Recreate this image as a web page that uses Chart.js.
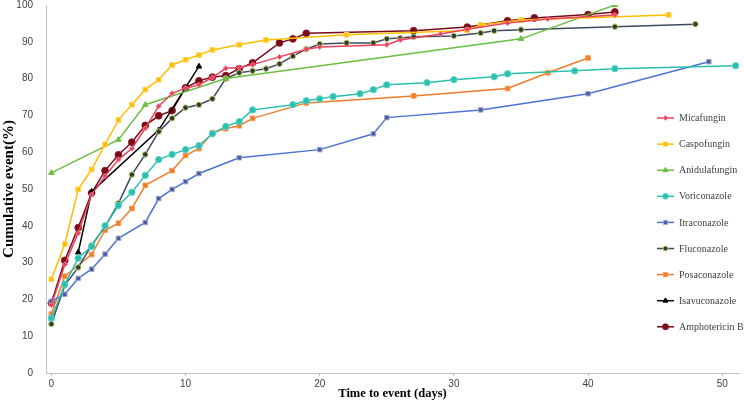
<!DOCTYPE html>
<html>
<head>
<meta charset="utf-8">
<script src="https://cdn.jsdelivr.net/npm/chart.js@4.4.1/dist/chart.umd.min.js"></script>
<style>
  html, body { margin: 0; padding: 0; background: #fff; }
  #wrap { width: 744px; height: 402px; position: relative; }
</style>
</head>
<body>
<div id="wrap"><canvas id="cumChart"></canvas></div>
<script>
// series labels (legend order)
const drugNames = ["Micafungin", "Caspofungin", "Anidulafungin", "Voriconazole", "Itraconazole",
                   "Fluconazole", "Posaconazole", "Isavuconazole", "Amphotericin B"];
const xTicks = [0, 10, 20, 30, 40, 50];

// day / cumulative % per drug
const micaDays = [0, 1, 2, 3, 4, 5, 6, 7, 8, 9, 10, 11, 12, 13, 14, 15, 17, 19, 20, 25, 26, 29, 31, 34, 37, 42];
const micaVals = [18.5, 29.5, 38, 48.5, 53.5, 58, 61, 66.5, 72.5, 76, 77.4, 78.3, 80.3, 82.8, 83, 83.8, 85.9, 88, 88.6, 89.2, 90.5, 92.1, 93.4, 95.1, 96.2, 97.3];

const caspoDays = [0, 1, 2, 3, 4, 5, 6, 7, 8, 9, 10, 11, 12, 14, 16, 22, 31, 32, 35, 46];
const caspoVals = [25.5, 35, 49.9, 55.3, 62.1, 68.8, 72.9, 77, 79.7, 83.7, 85.1, 86.4, 87.8, 89.2, 90.5, 91.9, 93.1, 94.6, 95.9, 97.3];

const anidDays = [0, 5, 7, 13, 35, 42];
const anidVals = [54.4, 63.4, 72.9, 80, 90.8, 100];

const voriDays = [0, 1, 2, 3, 4, 5, 6, 7, 8, 9, 10, 11, 12, 13, 14, 15, 18, 19, 20, 21, 23, 24, 25, 28, 30, 33, 34, 39, 42, 51];
const voriVals = [14.9, 24.1, 31.2, 34.4, 40, 45.5, 49.1, 53.7, 58, 59.4, 60.7, 61.8, 65, 67, 68.3, 71.5, 72.9, 74, 74.5, 75.1, 75.9, 77, 78.3, 78.9, 79.7, 80.5, 81.3, 82.1, 82.7, 83.5];

const itraDays = [0, 1, 2, 3, 4, 5, 7, 8, 9, 10, 11, 14, 20, 24, 25, 32, 40, 49];
const itraVals = [19.5, 21.4, 25.7, 28.2, 32.3, 36.6, 40.9, 47.4, 49.9, 52, 54.2, 58.5, 60.7, 65, 69.4, 71.5, 75.9, 84.6];

const flucoDays = [0, 1, 2, 3, 4, 5, 6, 7, 8, 9, 10, 11, 12, 13, 14, 15, 16, 17, 18, 19, 20, 22, 24, 25, 26, 27, 30, 32, 33, 35, 42, 48];
const flucoVals = [13.3, 23.8, 28.7, 34.7, 39.8, 46.1, 53.9, 59.4, 65.6, 69.2, 72.1, 72.9, 74.5, 80, 81.6, 82.1, 82.7, 84, 86.1, 88, 89.4, 89.7, 89.7, 90.8, 91, 91.4, 91.6, 92.4, 93, 93.3, 94.1, 94.8];

const posaDays = [0, 1, 3, 4, 5, 6, 7, 9, 10, 11, 12, 13, 14, 15, 19, 27, 34, 37, 40];
const posaVals = [16, 26.3, 32.2, 38.8, 40.7, 44.7, 51, 55, 59.1, 61, 65.3, 66.4, 67.2, 69.2, 73.4, 75.3, 77.3, 81.6, 85.6];

const isaDays = [2, 3, 8, 11];
const isaVals = [32.8, 49.3, 66, 83.3];

const amphoDays = [0, 1, 2, 3, 4, 5, 6, 7, 8, 9, 10, 11, 12, 13, 14, 15, 17, 18, 19, 27, 31, 34, 36, 40, 42];
const amphoVals = [19, 30.6, 39.5, 48.9, 55, 59.3, 62.7, 67.3, 69.9, 71.3, 77.5, 79.4, 80.4, 80.8, 82.7, 84.3, 89.7, 90.8, 92.3, 93, 94, 95.7, 96.5, 97.4, 98.1];

function pts(days, vals) {
  return days.map((d, i) => ({ x: d, y: vals[i] }));
}

// one entry per drug: data + look
const seriesDefs = [
  { days: micaDays,  vals: micaVals,  line: "#E8415A", fill: "#E8415A", edge: "#F07A8A", style: "rectRot",  r: 2.6 },
  { days: caspoDays, vals: caspoVals, line: "#FFBE00", fill: "#FFBE00", edge: "#FFD24D", style: "rect",     r: 3.3 },
  { days: anidDays,  vals: anidVals,  line: "#6CBE45", fill: "#6CBE45", edge: "#6CBE45", style: "triangle", r: 3.2 },
  { days: voriDays,  vals: voriVals,  line: "#2BBFB0", fill: "#2BBFB0", edge: "#5FD3C8", style: "circle",   r: 3.2 },
  { days: itraDays,  vals: itraVals,  line: "#4A74D0", fill: "#4F5C9A", edge: "#9AA8D8", style: "rect",     r: 3.2 },
  { days: flucoDays, vals: flucoVals, line: "#3C4A5E", fill: "#2F3B35", edge: "#C9D870", style: "circle",   r: 2.8 },
  { days: posaDays,  vals: posaVals,  line: "#F07C2A", fill: "#F07C2A", edge: "#F59A58", style: "rect",     r: 3.3 },
  { days: isaDays,   vals: isaVals,   line: "#000000", fill: "#000000", edge: "#000000", style: "triangle", r: 3.2 },
  { days: amphoDays, vals: amphoVals, line: "#7A0A17", fill: "#7A0A17", edge: "#8E1A26", style: "circle",   r: 3.4 }
];

const datasets = seriesDefs.map((s, i) => ({
  label: drugNames[i],
  data: pts(s.days, s.vals),
  borderColor: s.line,
  backgroundColor: s.fill,
  pointBackgroundColor: s.fill,
  pointBorderColor: s.edge,
  pointBorderWidth: 1,
  pointStyle: s.style,
  pointRadius: s.r,
  borderWidth: 1.5,
  tension: 0
}));

// legend sits on top of the plot, right side
const sideLegend = {
  id: "sideLegend",
  afterDraw(chart) {
    const ctx = chart.ctx;
    ctx.save();
    chart.data.datasets.forEach((ds, i) => {
      const y = 118 + i * 26.1;
      ctx.strokeStyle = ds.borderColor;
      ctx.lineWidth = 1.5;
      ctx.beginPath();
      ctx.moveTo(657, y);
      ctx.lineTo(674, y);
      ctx.stroke();
      ctx.fillStyle = ds.pointBackgroundColor;
      ctx.strokeStyle = ds.pointBorderColor;
      ctx.lineWidth = 1;
      Chart.helpers.drawPoint(ctx, { pointStyle: ds.pointStyle, radius: ds.pointRadius * 0.9, rotation: 0, borderWidth: 1 }, 665.5, y);
      ctx.fillStyle = "#404040";
      ctx.font = "10px 'Liberation Serif'";
      ctx.textAlign = "left";
      ctx.textBaseline = "middle";
      ctx.fillText(ds.label, 679, y + 0.5);
    });
    ctx.restore();
  }
};

const ctx = document.getElementById("cumChart").getContext("2d");
const chart = new Chart(ctx, {
  type: "line",
  data: { datasets: datasets },
  options: {
    responsive: true,
    maintainAspectRatio: false,
    animation: false,
    layout: { padding: { top: 4, right: 0, bottom: 0, left: 0 } },
    plugins: {
      legend: { display: false },
      tooltip: { enabled: false }
    },
    scales: {
      x: {
        type: "linear",
        min: -0.4,
        max: 51.25,
        afterBuildTicks: (axis) => { axis.ticks = xTicks.map(v => ({ value: v })); },
        afterFit: (axis) => { axis.height = 29; axis.paddingLeft = 0; axis.paddingRight = 0; },
        grid: { display: true, drawOnChartArea: false, tickLength: 3, color: "#BFBFBF" },
        border: { color: "#BFBFBF", width: 1 },
        ticks: { color: "#404040", font: { family: "'Liberation Sans'", size: 10 }, padding: 2, maxRotation: 0 },
        title: {
          display: true,
          text: "Time to event (days)",
          color: "#000",
          font: { family: "'Liberation Serif'", size: 12.5, weight: "bold" },
          padding: { top: 0, bottom: 1 }
        }
      },
      y: {
        min: 0,
        max: 100,
        afterFit: (axis) => { axis.width = 46; axis.paddingTop = 0; axis.paddingBottom = 0; },
        grid: { display: false },
        border: { color: "#BFBFBF", width: 1 },
        ticks: { stepSize: 10, color: "#404040", font: { family: "'Liberation Sans'", size: 10 }, padding: 5 },
        title: {
          display: true,
          text: "Cumulative event(%)",
          color: "#000",
          font: { family: "'Liberation Serif'", size: 15, weight: "bold" },
          padding: { top: 0, bottom: 0 }
        }
      }
    }
  },
  plugins: [sideLegend]
});
</script>
</body>
</html>
